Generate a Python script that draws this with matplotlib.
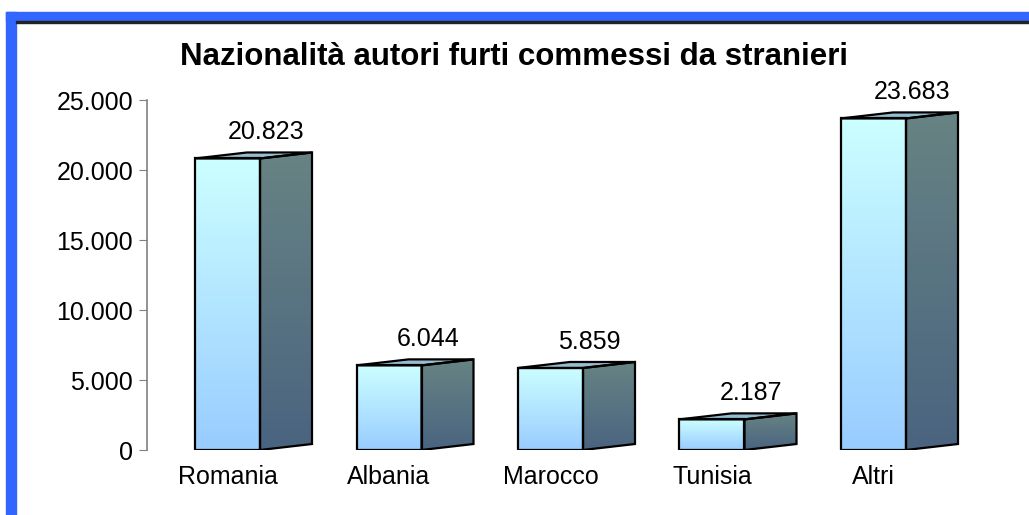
import matplotlib.pyplot as plt
import numpy as np
from matplotlib.patches import Polygon, Rectangle
from matplotlib.colors import LinearSegmentedColormap
from matplotlib.ticker import FuncFormatter

categories = ['Romania', 'Albania', 'Marocco', 'Tunisia', 'Altri']
values = [20823, 6044, 5859, 2187, 23683]
yticks = [0, 5000, 10000, 15000, 20000, 25000]

plt.rcParams['font.family'] = ['Liberation Sans', 'DejaVu Sans']

W, H = 1029, 515
fig = plt.figure(figsize=(W / 100, H / 100), dpi=100)

# blue frame (only top and left are visible in the crop)
fig.patches.append(Rectangle((6 / W, 1 - 21 / H), 1 - 6 / W, 9 / H,
                             transform=fig.transFigure, color='#3366FF', zorder=0))
fig.patches.append(Rectangle((6 / W, 0), 10 / W, 1 - 12 / H,
                             transform=fig.transFigure, color='#3366FF', zorder=0))
fig.patches.append(Rectangle((16 / W, 1 - 22.5 / H), 1, 1.5 / H,
                             transform=fig.transFigure, color='#222222', zorder=0))

# axes placed in pixel terms: x=147..1000, y=100..450 (from top)
left, right, top, bottom = 147, 1000, 100, 450
ax = fig.add_axes([left / W, 1 - bottom / H, (right - left) / W, (bottom - top) / H])

step = 161.5          # pixels between categories
px_per_unit = (bottom - top) / 25000
x0 = (left - 227.5) / step
x1 = (right - 227.5) / step
ax.set_xlim(x0, x1)
ax.set_ylim(0, 25000)

bw = 65 / step        # front face width
dx = 52 / step        # depth offset in x
dy = 6 / px_per_unit  # depth offset in y

front_cmap = LinearSegmentedColormap.from_list('front', ['#99CCFF', '#CCFFFF'])
side_cmap = LinearSegmentedColormap.from_list('side', ['#4A6480', '#678383'])
grad = np.linspace(0, 1, 256).reshape(-1, 1)

for i, v in enumerate(values):
    xl = i - bw / 2
    xr = i + bw / 2
    # front face
    ax.imshow(grad, cmap=front_cmap, origin='lower', aspect='auto',
              extent=[xl, xr, 0, v], zorder=2)
    ax.add_patch(Polygon([[xl, 0], [xr, 0], [xr, v], [xl, v]], closed=True,
                         fill=False, ec='black', lw=1.6, zorder=4))
    # side face
    side = Polygon([[xr, 0], [xr + dx, dy], [xr + dx, v + dy], [xr, v]], closed=True,
                   fill=False, ec='black', lw=1.6, zorder=4)
    ax.add_patch(side)
    im = ax.imshow(grad, cmap=side_cmap, origin='lower', aspect='auto',
                   extent=[xr, xr + dx, 0, v + dy], zorder=2)
    clip = Polygon(side.get_xy(), closed=True, transform=ax.transData)
    im.set_clip_path(clip)
    # top face
    ax.add_patch(Polygon([[xl, v], [xr, v], [xr + dx, v + dy], [xl + dx, v + dy]],
                         closed=True, fc='#96BCD0', ec='black', lw=1.6, zorder=3))
    # value label
    ax.text(i + 39 / step, v + 14 / px_per_unit, f'{v:,}'.replace(',', '.'),
            ha='center', va='bottom', fontsize=18, zorder=5)

ax.set_xticks(range(len(categories)))
ax.set_xticklabels(categories, fontsize=18)
ax.tick_params(axis='x', length=0, pad=11)
ax.set_yticks(yticks)
ax.yaxis.set_major_formatter(FuncFormatter(lambda v, p: f'{int(v):,}'.replace(',', '.')))
ax.tick_params(axis='y', labelsize=18, length=6, color='#808080', pad=4)

for s in ['top', 'right', 'bottom']:
    ax.spines[s].set_visible(False)
ax.spines['left'].set_color('#808080')
ax.spines['left'].set_linewidth(1.2)
ax.set_facecolor('none')

fig.text(514 / W, 1 - 57 / H, 'Nazionalità autori furti commessi da stranieri',
         ha='center', va='center', fontsize=22.5, fontweight='bold')

fig.savefig('out.png', dpi=100)
